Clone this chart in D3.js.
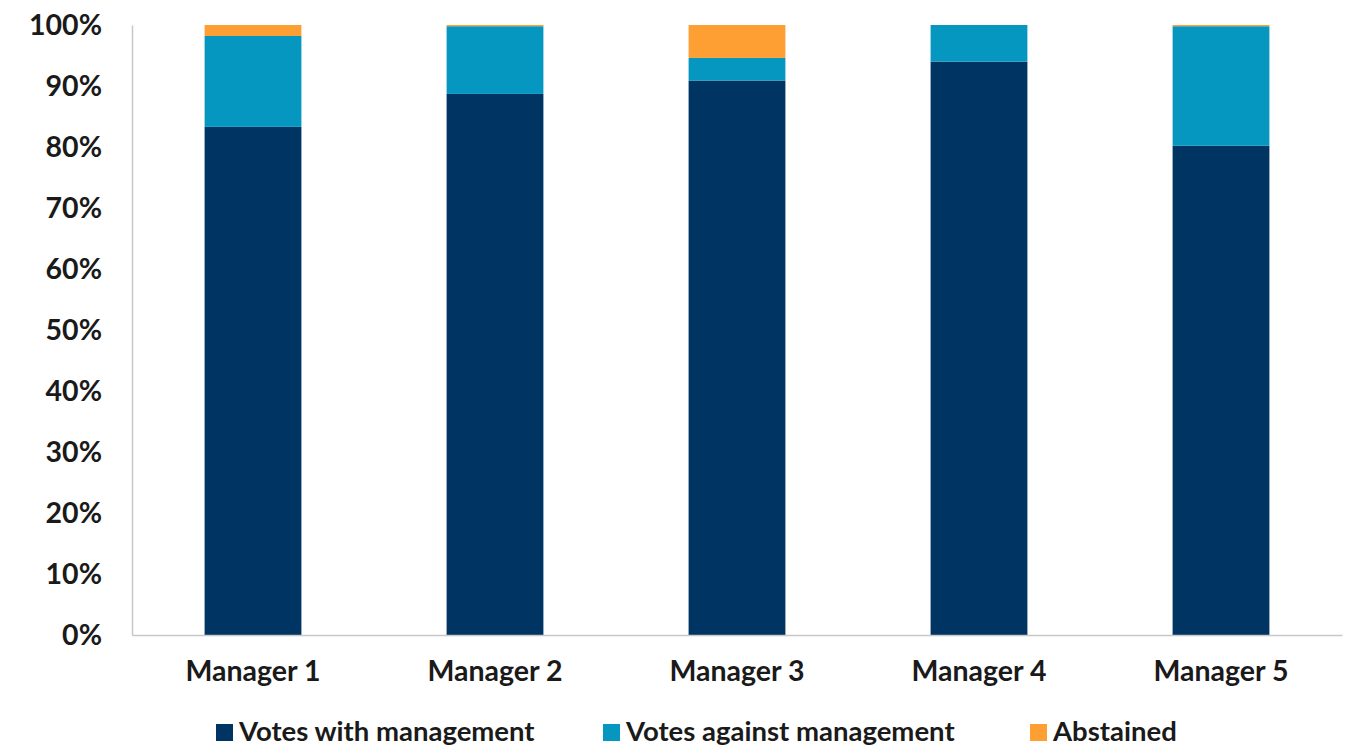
<!DOCTYPE html>
<html><head><meta charset="utf-8">
<script src="https://cdn.jsdelivr.net/npm/d3@7"></script>
<style>
body{margin:0;background:#fff;}
svg text{font-family:Lato, "Open Sans", sans-serif;font-weight:700;fill:#1a1a1a;}
</style></head>
<body><svg id="c" width="1349" height="748"></svg>
<script>
const categories = ["Manager 1","Manager 2","Manager 3","Manager 4","Manager 5"];
const seriesNames = ["Votes with management","Votes against management","Abstained"];
const withMgmt = [83.3, 88.7, 90.9, 94.0, 80.2];
const againstMgmt = [14.9, 11.1, 3.7, 6.0, 19.6];
const abstained = [1.8, 0.2, 5.4, 0.0, 0.2];
const yTicks = [0,10,20,30,40,50,60,70,80,90,100];
const colors = ["#003462","#0597c0","#fd9f33"];

const svg = d3.select("#c");
const x0 = 132, x1 = 1342, yTop = 25, yBot = 635;
const x = d3.scaleBand().domain(categories).range([x0,x1]).paddingInner(0.6).paddingOuter(0.3);
const y = d3.scaleLinear().domain([0,100]).range([yBot,yTop]);

const rows = categories.map((c,i)=>({cat:c, w:withMgmt[i], a:againstMgmt[i], b:abstained[i]}));
const stack = d3.stack().keys(["w","a","b"])(rows);

svg.append("g").selectAll("g").data(stack).join("g").attr("fill",(d,i)=>colors[i])
  .selectAll("rect").data(d=>d).join("rect")
  .attr("x",d=>x(d.data.cat)).attr("width",x.bandwidth())
  .attr("y",d=>y(Math.min(100,d[1]))).attr("height",d=>Math.max(0,y(d[0])-y(Math.min(100,d[1]))));

// axes
const yAxis = d3.axisLeft(y).tickValues(yTicks).tickFormat(d=>d+"%").tickSize(0).tickPadding(30);
const gy = svg.append("g").attr("transform",`translate(${x0},0)`).call(yAxis);
gy.select(".domain").attr("stroke","#c8c8c8").attr("stroke-width",1.5);
gy.selectAll("text").style("font-size","28.5px").attr("dy","0.35em");

const xAxis = d3.axisBottom(x).tickSize(0).tickPadding(26);
const gx = svg.append("g").attr("transform",`translate(0,${yBot})`).call(xAxis);
gx.select(".domain").attr("stroke","#c8c8c8").attr("stroke-width",1.5);
gx.selectAll("text").style("font-size","28.5px");

// legend
const legend = svg.append("g").attr("transform","translate(216,741)");
const lx = [0, 387, 814];
seriesNames.forEach((n,i)=>{
  const g = legend.append("g").attr("transform",`translate(${lx[i]},0)`);
  g.append("rect").attr("x",0).attr("y",-17).attr("width",17).attr("height",17).attr("fill",colors[i]);
  g.append("text").attr("x",23).attr("y",0).style("font-size","27.5px").text(n);
});
</script></body></html>
